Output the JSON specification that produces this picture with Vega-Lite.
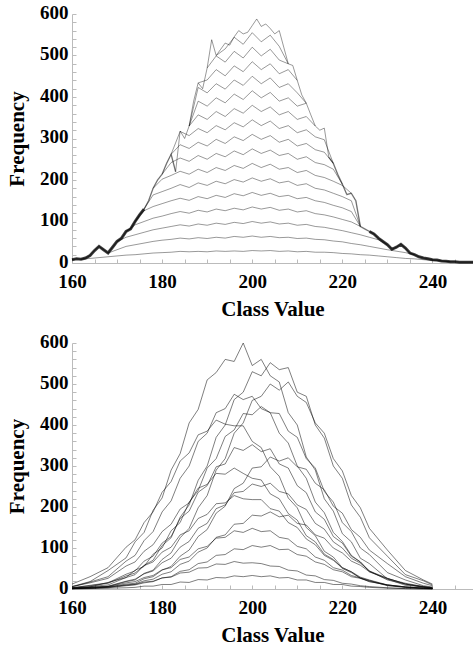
{
"$schema":"https://vega.github.io/schema/vega-lite/v6.json",
"padding":{"left":6,"top":3,"right":0,"bottom":0},
"spacing":13,
"config":{"view":{"stroke":null},"axis":{"labelFont":"Liberation Serif","labelFontWeight":"bold","labelFontSize":19,"labelColor":"#000","titleFont":"Liberation Serif","titleFontWeight":"bold","titleFontSize":21,"titleColor":"#000","domainColor":"#bbb","tickColor":"#bbb","grid":false,"labelOverlap":false,"labelFlush":false}},
"datasets":{
"a":[
{"s":"E","x":160,"y":8},{"s":"E","x":161,"y":10},{"s":"E","x":162,"y":9},{"s":"E","x":163,"y":12},{"s":"E","x":164,"y":18},{"s":"E","x":165,"y":30},{"s":"E","x":166,"y":40},{"s":"E","x":167,"y":32},{"s":"E","x":168,"y":24},{"s":"E","x":169,"y":38},{"s":"E","x":170,"y":52},{"s":"E","x":171,"y":60},{"s":"E","x":172,"y":76},{"s":"E","x":173,"y":82},{"s":"E","x":174,"y":100},{"s":"E","x":175,"y":116},{"s":"E","x":176,"y":130},{"s":"E","x":177,"y":150},{"s":"E","x":178,"y":180},{"s":"E","x":179,"y":200},{"s":"E","x":180,"y":214},{"s":"E","x":181,"y":240},{"s":"E","x":182,"y":262},{"s":"E","x":183,"y":220},{"s":"E","x":184,"y":318},{"s":"E","x":185,"y":300},{"s":"E","x":186,"y":330},{"s":"E","x":187,"y":390},{"s":"E","x":188,"y":434},{"s":"E","x":189,"y":420},{"s":"E","x":190,"y":470},{"s":"E","x":191,"y":538},{"s":"E","x":192,"y":500},{"s":"E","x":193,"y":515},{"s":"E","x":194,"y":530},{"s":"E","x":195,"y":525},{"s":"E","x":196,"y":545},{"s":"E","x":197,"y":560},{"s":"E","x":198,"y":552},{"s":"E","x":199,"y":556},{"s":"E","x":200,"y":572},{"s":"E","x":201,"y":588},{"s":"E","x":202,"y":570},{"s":"E","x":203,"y":576},{"s":"E","x":204,"y":565},{"s":"E","x":205,"y":552},{"s":"E","x":206,"y":560},{"s":"E","x":207,"y":520},{"s":"E","x":208,"y":480},{"s":"E","x":209,"y":476},{"s":"E","x":210,"y":440},{"s":"E","x":211,"y":405},{"s":"E","x":212,"y":385},{"s":"E","x":213,"y":357},{"s":"E","x":214,"y":330},{"s":"E","x":215,"y":320},{"s":"E","x":216,"y":325},{"s":"E","x":217,"y":255},{"s":"E","x":218,"y":240},{"s":"E","x":219,"y":213},{"s":"E","x":220,"y":190},{"s":"E","x":221,"y":165},{"s":"E","x":222,"y":168},{"s":"E","x":223,"y":150},{"s":"E","x":224,"y":88},{"s":"E","x":225,"y":82},{"s":"E","x":226,"y":76},{"s":"E","x":227,"y":70},{"s":"E","x":228,"y":60},{"s":"E","x":229,"y":52},{"s":"E","x":230,"y":44},{"s":"E","x":231,"y":33},{"s":"E","x":232,"y":38},{"s":"E","x":233,"y":45},{"s":"E","x":234,"y":36},{"s":"E","x":235,"y":24},{"s":"E","x":236,"y":20},{"s":"E","x":237,"y":15},{"s":"E","x":238,"y":12},{"s":"E","x":239,"y":10},{"s":"E","x":240,"y":8},{"s":"E","x":241,"y":7},{"s":"E","x":242,"y":5},{"s":"E","x":243,"y":4},{"s":"E","x":244,"y":3},{"s":"E","x":245,"y":3},{"s":"E","x":246,"y":2},{"s":"E","x":247,"y":2},{"s":"E","x":248,"y":2},{"s":"E","x":249,"y":2},
{"s":"1","x":162,"y":9},{"s":"1","x":164,"y":11},{"s":"1","x":166,"y":13},{"s":"1","x":168,"y":15},{"s":"1","x":170,"y":17},{"s":"1","x":172,"y":19},{"s":"1","x":174,"y":20},{"s":"1","x":176,"y":22},{"s":"1","x":178,"y":24},{"s":"1","x":180,"y":25},{"s":"1","x":182,"y":26},{"s":"1","x":184,"y":28},{"s":"1","x":186,"y":27},{"s":"1","x":188,"y":28},{"s":"1","x":190,"y":27},{"s":"1","x":192,"y":29},{"s":"1","x":194,"y":28},{"s":"1","x":196,"y":29},{"s":"1","x":198,"y":28},{"s":"1","x":200,"y":30},{"s":"1","x":202,"y":29},{"s":"1","x":204,"y":30},{"s":"1","x":206,"y":28},{"s":"1","x":208,"y":29},{"s":"1","x":210,"y":27},{"s":"1","x":212,"y":28},{"s":"1","x":214,"y":26},{"s":"1","x":216,"y":26},{"s":"1","x":218,"y":25},{"s":"1","x":220,"y":23},{"s":"1","x":222,"y":22},{"s":"1","x":224,"y":20},{"s":"1","x":226,"y":19},{"s":"1","x":228,"y":17},{"s":"1","x":230,"y":15},{"s":"1","x":232,"y":13},{"s":"1","x":234,"y":11},{"s":"1","x":236,"y":10},{"s":"1","x":238,"y":8},{"s":"1","x":240,"y":6},{"s":"1","x":242,"y":5},{"s":"1","x":244,"y":3},
{"s":"2","x":168,"y":24},{"s":"2","x":172,"y":40},{"s":"2","x":176,"y":48},{"s":"2","x":178,"y":52},{"s":"2","x":180,"y":55},{"s":"2","x":182,"y":57},{"s":"2","x":184,"y":60},{"s":"2","x":186,"y":58},{"s":"2","x":188,"y":61},{"s":"2","x":190,"y":59},{"s":"2","x":192,"y":62},{"s":"2","x":194,"y":60},{"s":"2","x":196,"y":64},{"s":"2","x":198,"y":62},{"s":"2","x":200,"y":65},{"s":"2","x":202,"y":62},{"s":"2","x":204,"y":64},{"s":"2","x":206,"y":61},{"s":"2","x":208,"y":62},{"s":"2","x":210,"y":59},{"s":"2","x":212,"y":60},{"s":"2","x":214,"y":57},{"s":"2","x":216,"y":56},{"s":"2","x":218,"y":53},{"s":"2","x":220,"y":51},{"s":"2","x":222,"y":47},{"s":"2","x":224,"y":44},{"s":"2","x":226,"y":40},{"s":"2","x":230,"y":32},{"s":"2","x":234,"y":25},{"s":"2","x":236,"y":20},
{"s":"3","x":170,"y":52},{"s":"3","x":172,"y":62},{"s":"3","x":174,"y":68},{"s":"3","x":176,"y":74},{"s":"3","x":178,"y":80},{"s":"3","x":180,"y":84},{"s":"3","x":182,"y":88},{"s":"3","x":184,"y":92},{"s":"3","x":186,"y":89},{"s":"3","x":188,"y":94},{"s":"3","x":190,"y":91},{"s":"3","x":192,"y":96},{"s":"3","x":194,"y":93},{"s":"3","x":196,"y":98},{"s":"3","x":198,"y":95},{"s":"3","x":200,"y":100},{"s":"3","x":202,"y":96},{"s":"3","x":204,"y":99},{"s":"3","x":206,"y":94},{"s":"3","x":208,"y":96},{"s":"3","x":210,"y":91},{"s":"3","x":212,"y":93},{"s":"3","x":214,"y":88},{"s":"3","x":216,"y":86},{"s":"3","x":218,"y":82},{"s":"3","x":220,"y":78},{"s":"3","x":222,"y":73},{"s":"3","x":224,"y":68},{"s":"3","x":226,"y":62},{"s":"3","x":228,"y":56},{"s":"3","x":230,"y":44},
{"s":"4","x":172,"y":76},{"s":"4","x":174,"y":92},{"s":"4","x":176,"y":100},{"s":"4","x":178,"y":108},{"s":"4","x":180,"y":113},{"s":"4","x":182,"y":119},{"s":"4","x":184,"y":124},{"s":"4","x":186,"y":120},{"s":"4","x":188,"y":127},{"s":"4","x":190,"y":123},{"s":"4","x":192,"y":130},{"s":"4","x":194,"y":126},{"s":"4","x":196,"y":132},{"s":"4","x":198,"y":128},{"s":"4","x":200,"y":135},{"s":"4","x":202,"y":130},{"s":"4","x":204,"y":134},{"s":"4","x":206,"y":127},{"s":"4","x":208,"y":130},{"s":"4","x":210,"y":123},{"s":"4","x":212,"y":126},{"s":"4","x":214,"y":119},{"s":"4","x":216,"y":116},{"s":"4","x":218,"y":111},{"s":"4","x":220,"y":105},{"s":"4","x":222,"y":99},{"s":"4","x":224,"y":88},
{"s":"5","x":174,"y":100},{"s":"5","x":176,"y":126},{"s":"5","x":178,"y":136},{"s":"5","x":180,"y":143},{"s":"5","x":182,"y":150},{"s":"5","x":184,"y":156},{"s":"5","x":186,"y":151},{"s":"5","x":188,"y":160},{"s":"5","x":190,"y":155},{"s":"5","x":192,"y":163},{"s":"5","x":194,"y":158},{"s":"5","x":196,"y":167},{"s":"5","x":198,"y":162},{"s":"5","x":200,"y":170},{"s":"5","x":202,"y":163},{"s":"5","x":204,"y":168},{"s":"5","x":206,"y":160},{"s":"5","x":208,"y":163},{"s":"5","x":210,"y":155},{"s":"5","x":212,"y":158},{"s":"5","x":214,"y":150},{"s":"5","x":216,"y":146},{"s":"5","x":218,"y":139},{"s":"5","x":220,"y":133},{"s":"5","x":222,"y":124},{"s":"5","x":224,"y":88},
{"s":"6","x":176,"y":130},{"s":"6","x":178,"y":164},{"s":"6","x":180,"y":172},{"s":"6","x":182,"y":180},{"s":"6","x":184,"y":189},{"s":"6","x":186,"y":182},{"s":"6","x":188,"y":193},{"s":"6","x":190,"y":187},{"s":"6","x":192,"y":197},{"s":"6","x":194,"y":191},{"s":"6","x":196,"y":201},{"s":"6","x":198,"y":195},{"s":"6","x":200,"y":205},{"s":"6","x":202,"y":197},{"s":"6","x":204,"y":203},{"s":"6","x":206,"y":193},{"s":"6","x":208,"y":197},{"s":"6","x":210,"y":187},{"s":"6","x":212,"y":191},{"s":"6","x":214,"y":180},{"s":"6","x":216,"y":176},{"s":"6","x":218,"y":168},{"s":"6","x":220,"y":160},{"s":"6","x":222,"y":150},{"s":"6","x":224,"y":88},
{"s":"7","x":178,"y":180},{"s":"7","x":180,"y":202},{"s":"7","x":182,"y":211},{"s":"7","x":184,"y":221},{"s":"7","x":186,"y":214},{"s":"7","x":188,"y":226},{"s":"7","x":190,"y":218},{"s":"7","x":192,"y":230},{"s":"7","x":194,"y":223},{"s":"7","x":196,"y":235},{"s":"7","x":198,"y":228},{"s":"7","x":200,"y":240},{"s":"7","x":202,"y":230},{"s":"7","x":204,"y":238},{"s":"7","x":206,"y":226},{"s":"7","x":208,"y":230},{"s":"7","x":210,"y":218},{"s":"7","x":212,"y":223},{"s":"7","x":214,"y":211},{"s":"7","x":216,"y":206},{"s":"7","x":218,"y":197},{"s":"7","x":220,"y":187},{"s":"7","x":222,"y":168},
{"s":"8","x":180,"y":214},{"s":"8","x":182,"y":242},{"s":"8","x":184,"y":253},{"s":"8","x":186,"y":245},{"s":"8","x":188,"y":259},{"s":"8","x":190,"y":250},{"s":"8","x":192,"y":264},{"s":"8","x":194,"y":256},{"s":"8","x":196,"y":270},{"s":"8","x":198,"y":261},{"s":"8","x":200,"y":275},{"s":"8","x":202,"y":264},{"s":"8","x":204,"y":272},{"s":"8","x":206,"y":259},{"s":"8","x":208,"y":264},{"s":"8","x":210,"y":250},{"s":"8","x":212,"y":256},{"s":"8","x":214,"y":242},{"s":"8","x":216,"y":237},{"s":"8","x":218,"y":226},{"s":"8","x":220,"y":190},
{"s":"9","x":182,"y":262},{"s":"9","x":184,"y":285},{"s":"9","x":186,"y":276},{"s":"9","x":188,"y":291},{"s":"9","x":190,"y":282},{"s":"9","x":192,"y":298},{"s":"9","x":194,"y":288},{"s":"9","x":196,"y":304},{"s":"9","x":198,"y":295},{"s":"9","x":200,"y":310},{"s":"9","x":202,"y":298},{"s":"9","x":204,"y":307},{"s":"9","x":206,"y":291},{"s":"9","x":208,"y":298},{"s":"9","x":210,"y":282},{"s":"9","x":212,"y":288},{"s":"9","x":214,"y":273},{"s":"9","x":216,"y":267},{"s":"9","x":218,"y":240},
{"s":"10","x":182,"y":262},{"s":"10","x":184,"y":317},{"s":"10","x":186,"y":307},{"s":"10","x":188,"y":324},{"s":"10","x":190,"y":314},{"s":"10","x":192,"y":331},{"s":"10","x":194,"y":321},{"s":"10","x":196,"y":338},{"s":"10","x":198,"y":328},{"s":"10","x":200,"y":345},{"s":"10","x":202,"y":331},{"s":"10","x":204,"y":342},{"s":"10","x":206,"y":324},{"s":"10","x":208,"y":331},{"s":"10","x":210,"y":314},{"s":"10","x":212,"y":321},{"s":"10","x":214,"y":304},{"s":"10","x":216,"y":297},{"s":"10","x":218,"y":240},
{"s":"11","x":186,"y":330},{"s":"11","x":188,"y":357},{"s":"11","x":190,"y":346},{"s":"11","x":192,"y":365},{"s":"11","x":194,"y":353},{"s":"11","x":196,"y":372},{"s":"11","x":198,"y":361},{"s":"11","x":200,"y":380},{"s":"11","x":202,"y":365},{"s":"11","x":204,"y":376},{"s":"11","x":206,"y":357},{"s":"11","x":208,"y":365},{"s":"11","x":210,"y":346},{"s":"11","x":212,"y":353},{"s":"11","x":214,"y":330},
{"s":"12","x":186,"y":330},{"s":"12","x":188,"y":390},{"s":"12","x":190,"y":378},{"s":"12","x":192,"y":398},{"s":"12","x":194,"y":386},{"s":"12","x":196,"y":407},{"s":"12","x":198,"y":394},{"s":"12","x":200,"y":415},{"s":"12","x":202,"y":398},{"s":"12","x":204,"y":411},{"s":"12","x":206,"y":390},{"s":"12","x":208,"y":398},{"s":"12","x":210,"y":378},{"s":"12","x":212,"y":385},
{"s":"13","x":186,"y":330},{"s":"13","x":188,"y":423},{"s":"13","x":190,"y":410},{"s":"13","x":192,"y":432},{"s":"13","x":194,"y":419},{"s":"13","x":196,"y":441},{"s":"13","x":198,"y":428},{"s":"13","x":200,"y":450},{"s":"13","x":202,"y":432},{"s":"13","x":204,"y":446},{"s":"13","x":206,"y":423},{"s":"13","x":208,"y":432},{"s":"13","x":210,"y":410},{"s":"13","x":212,"y":385},
{"s":"14","x":188,"y":434},{"s":"14","x":190,"y":441},{"s":"14","x":192,"y":466},{"s":"14","x":194,"y":451},{"s":"14","x":196,"y":475},{"s":"14","x":198,"y":461},{"s":"14","x":200,"y":485},{"s":"14","x":202,"y":466},{"s":"14","x":204,"y":480},{"s":"14","x":206,"y":456},{"s":"14","x":208,"y":466},{"s":"14","x":210,"y":440},
{"s":"15","x":190,"y":470},{"s":"15","x":192,"y":499},{"s":"15","x":194,"y":484},{"s":"15","x":196,"y":510},{"s":"15","x":198,"y":494},{"s":"15","x":200,"y":520},{"s":"15","x":202,"y":499},{"s":"15","x":204,"y":515},{"s":"15","x":206,"y":489},{"s":"15","x":208,"y":480},
{"s":"16","x":192,"y":500},{"s":"16","x":194,"y":516},{"s":"16","x":196,"y":544},{"s":"16","x":198,"y":527},{"s":"16","x":200,"y":555},{"s":"16","x":202,"y":533},{"s":"16","x":204,"y":549},{"s":"16","x":206,"y":522},{"s":"16","x":208,"y":480}
],
"b":[
{"s":"1","x":160,"y":6},{"s":"1","x":164,"y":18},{"s":"1","x":168,"y":45},{"s":"1","x":172,"y":76},{"s":"1","x":174,"y":115},{"s":"1","x":176,"y":138},{"s":"1","x":178,"y":192},{"s":"1","x":180,"y":222},{"s":"1","x":182,"y":290},{"s":"1","x":184,"y":330},{"s":"1","x":186,"y":405},{"s":"1","x":188,"y":438},{"s":"1","x":190,"y":510},{"s":"1","x":192,"y":528},{"s":"1","x":194,"y":560},{"s":"1","x":196,"y":555},{"s":"1","x":198,"y":600},{"s":"1","x":200,"y":545},{"s":"1","x":202,"y":560},{"s":"1","x":204,"y":520},{"s":"1","x":206,"y":505},{"s":"1","x":208,"y":430},{"s":"1","x":210,"y":400},{"s":"1","x":212,"y":322},{"s":"1","x":214,"y":290},{"s":"1","x":216,"y":220},{"s":"1","x":218,"y":190},{"s":"1","x":220,"y":135},{"s":"1","x":222,"y":115},{"s":"1","x":224,"y":75},{"s":"1","x":226,"y":62},{"s":"1","x":230,"y":25},{"s":"1","x":234,"y":14},{"s":"1","x":238,"y":6},{"s":"1","x":240,"y":3},
{"s":"2","x":160,"y":2},{"s":"2","x":164,"y":6},{"s":"2","x":168,"y":10},{"s":"2","x":172,"y":28},{"s":"2","x":174,"y":35},{"s":"2","x":176,"y":58},{"s":"2","x":178,"y":70},{"s":"2","x":180,"y":106},{"s":"2","x":182,"y":125},{"s":"2","x":184,"y":175},{"s":"2","x":186,"y":205},{"s":"2","x":188,"y":265},{"s":"2","x":190,"y":300},{"s":"2","x":192,"y":370},{"s":"2","x":194,"y":400},{"s":"2","x":196,"y":462},{"s":"2","x":198,"y":480},{"s":"2","x":200,"y":530},{"s":"2","x":202,"y":520},{"s":"2","x":204,"y":552},{"s":"2","x":206,"y":535},{"s":"2","x":208,"y":540},{"s":"2","x":210,"y":480},{"s":"2","x":212,"y":470},{"s":"2","x":214,"y":400},{"s":"2","x":216,"y":368},{"s":"2","x":218,"y":300},{"s":"2","x":220,"y":270},{"s":"2","x":222,"y":205},{"s":"2","x":224,"y":175},{"s":"2","x":226,"y":125},{"s":"2","x":230,"y":80},{"s":"2","x":234,"y":35},{"s":"2","x":238,"y":20},{"s":"2","x":240,"y":10},
{"s":"3","x":160,"y":1},{"s":"3","x":164,"y":4},{"s":"3","x":168,"y":6},{"s":"3","x":172,"y":18},{"s":"3","x":174,"y":22},{"s":"3","x":176,"y":38},{"s":"3","x":178,"y":46},{"s":"3","x":180,"y":72},{"s":"3","x":182,"y":88},{"s":"3","x":184,"y":125},{"s":"3","x":186,"y":148},{"s":"3","x":188,"y":198},{"s":"3","x":190,"y":228},{"s":"3","x":192,"y":290},{"s":"3","x":194,"y":318},{"s":"3","x":196,"y":380},{"s":"3","x":198,"y":405},{"s":"3","x":200,"y":460},{"s":"3","x":202,"y":470},{"s":"3","x":204,"y":500},{"s":"3","x":206,"y":485},{"s":"3","x":208,"y":505},{"s":"3","x":210,"y":470},{"s":"3","x":212,"y":455},{"s":"3","x":214,"y":405},{"s":"3","x":216,"y":380},{"s":"3","x":218,"y":318},{"s":"3","x":220,"y":288},{"s":"3","x":222,"y":228},{"s":"3","x":224,"y":198},{"s":"3","x":226,"y":148},{"s":"3","x":230,"y":95},{"s":"3","x":234,"y":45},{"s":"3","x":238,"y":22},{"s":"3","x":240,"y":12},
{"s":"4","x":160,"y":5},{"s":"4","x":164,"y":17},{"s":"4","x":168,"y":30},{"s":"4","x":172,"y":68},{"s":"4","x":174,"y":82},{"s":"4","x":176,"y":118},{"s":"4","x":178,"y":140},{"s":"4","x":180,"y":188},{"s":"4","x":182,"y":215},{"s":"4","x":184,"y":270},{"s":"4","x":186,"y":300},{"s":"4","x":188,"y":360},{"s":"4","x":190,"y":380},{"s":"4","x":192,"y":430},{"s":"4","x":194,"y":440},{"s":"4","x":196,"y":475},{"s":"4","x":198,"y":462},{"s":"4","x":200,"y":470},{"s":"4","x":202,"y":440},{"s":"4","x":204,"y":430},{"s":"4","x":206,"y":380},{"s":"4","x":208,"y":356},{"s":"4","x":210,"y":300},{"s":"4","x":212,"y":270},{"s":"4","x":214,"y":212},{"s":"4","x":216,"y":186},{"s":"4","x":218,"y":138},{"s":"4","x":220,"y":116},{"s":"4","x":222,"y":82},{"s":"4","x":224,"y":66},{"s":"4","x":226,"y":42},{"s":"4","x":230,"y":24},{"s":"4","x":234,"y":9},{"s":"4","x":238,"y":5},{"s":"4","x":240,"y":2},
{"s":"5","x":160,"y":3},{"s":"5","x":164,"y":5},{"s":"5","x":168,"y":16},{"s":"5","x":172,"y":28},{"s":"5","x":174,"y":46},{"s":"5","x":176,"y":55},{"s":"5","x":178,"y":85},{"s":"5","x":180,"y":100},{"s":"5","x":182,"y":142},{"s":"5","x":184,"y":162},{"s":"5","x":186,"y":212},{"s":"5","x":188,"y":240},{"s":"5","x":190,"y":295},{"s":"5","x":192,"y":318},{"s":"5","x":194,"y":372},{"s":"5","x":196,"y":388},{"s":"5","x":198,"y":428},{"s":"5","x":200,"y":425},{"s":"5","x":202,"y":445},{"s":"5","x":204,"y":430},{"s":"5","x":206,"y":428},{"s":"5","x":208,"y":385},{"s":"5","x":210,"y":370},{"s":"5","x":212,"y":318},{"s":"5","x":214,"y":295},{"s":"5","x":216,"y":238},{"s":"5","x":218,"y":212},{"s":"5","x":220,"y":162},{"s":"5","x":222,"y":140},{"s":"5","x":224,"y":100},{"s":"5","x":226,"y":84},{"s":"5","x":230,"y":40},{"s":"5","x":234,"y":22},{"s":"5","x":238,"y":8},{"s":"5","x":240,"y":5},
{"s":"6","x":160,"y":12},{"s":"6","x":164,"y":30},{"s":"6","x":168,"y":52},{"s":"6","x":172,"y":102},{"s":"6","x":174,"y":120},{"s":"6","x":176,"y":162},{"s":"6","x":178,"y":188},{"s":"6","x":180,"y":236},{"s":"6","x":182,"y":262},{"s":"6","x":184,"y":312},{"s":"6","x":186,"y":332},{"s":"6","x":188,"y":376},{"s":"6","x":190,"y":385},{"s":"6","x":192,"y":412},{"s":"6","x":194,"y":402},{"s":"6","x":196,"y":398},{"s":"6","x":198,"y":398},{"s":"6","x":200,"y":360},{"s":"6","x":202,"y":345},{"s":"6","x":204,"y":298},{"s":"6","x":206,"y":275},{"s":"6","x":208,"y":222},{"s":"6","x":210,"y":198},{"s":"6","x":212,"y":150},{"s":"6","x":214,"y":130},{"s":"6","x":216,"y":92},{"s":"6","x":218,"y":78},{"s":"6","x":220,"y":52},{"s":"6","x":222,"y":42},{"s":"6","x":224,"y":26},{"s":"6","x":226,"y":20},{"s":"6","x":230,"y":8},{"s":"6","x":234,"y":4},{"s":"6","x":238,"y":2},{"s":"6","x":240,"y":1},
{"s":"7","x":160,"y":3},{"s":"7","x":164,"y":9},{"s":"7","x":168,"y":15},{"s":"7","x":172,"y":36},{"s":"7","x":174,"y":44},{"s":"7","x":176,"y":68},{"s":"7","x":178,"y":80},{"s":"7","x":180,"y":112},{"s":"7","x":182,"y":128},{"s":"7","x":184,"y":172},{"s":"7","x":186,"y":190},{"s":"7","x":188,"y":236},{"s":"7","x":190,"y":252},{"s":"7","x":192,"y":298},{"s":"7","x":194,"y":305},{"s":"7","x":196,"y":345},{"s":"7","x":198,"y":338},{"s":"7","x":200,"y":352},{"s":"7","x":202,"y":335},{"s":"7","x":204,"y":342},{"s":"7","x":206,"y":305},{"s":"7","x":208,"y":295},{"s":"7","x":210,"y":252},{"s":"7","x":212,"y":235},{"s":"7","x":214,"y":188},{"s":"7","x":216,"y":170},{"s":"7","x":218,"y":128},{"s":"7","x":220,"y":112},{"s":"7","x":222,"y":80},{"s":"7","x":224,"y":66},{"s":"7","x":226,"y":44},{"s":"7","x":230,"y":22},{"s":"7","x":234,"y":12},{"s":"7","x":238,"y":4},{"s":"7","x":240,"y":2},
{"s":"8","x":160,"y":1},{"s":"8","x":164,"y":2},{"s":"8","x":168,"y":5},{"s":"8","x":172,"y":12},{"s":"8","x":174,"y":14},{"s":"8","x":176,"y":25},{"s":"8","x":178,"y":30},{"s":"8","x":180,"y":46},{"s":"8","x":182,"y":55},{"s":"8","x":184,"y":80},{"s":"8","x":186,"y":95},{"s":"8","x":188,"y":128},{"s":"8","x":190,"y":145},{"s":"8","x":192,"y":185},{"s":"8","x":194,"y":202},{"s":"8","x":196,"y":245},{"s":"8","x":198,"y":258},{"s":"8","x":200,"y":295},{"s":"8","x":202,"y":298},{"s":"8","x":204,"y":322},{"s":"8","x":206,"y":312},{"s":"8","x":208,"y":320},{"s":"8","x":210,"y":298},{"s":"8","x":212,"y":292},{"s":"8","x":214,"y":258},{"s":"8","x":216,"y":242},{"s":"8","x":218,"y":202},{"s":"8","x":220,"y":185},{"s":"8","x":222,"y":145},{"s":"8","x":224,"y":126},{"s":"8","x":226,"y":95},{"s":"8","x":230,"y":62},{"s":"8","x":234,"y":30},{"s":"8","x":238,"y":14},{"s":"8","x":240,"y":8},
{"s":"9","x":160,"y":6},{"s":"9","x":164,"y":15},{"s":"9","x":168,"y":26},{"s":"9","x":172,"y":56},{"s":"9","x":174,"y":66},{"s":"9","x":176,"y":92},{"s":"9","x":178,"y":108},{"s":"9","x":180,"y":140},{"s":"9","x":182,"y":158},{"s":"9","x":184,"y":195},{"s":"9","x":186,"y":210},{"s":"9","x":188,"y":246},{"s":"9","x":190,"y":255},{"s":"9","x":192,"y":282},{"s":"9","x":194,"y":280},{"s":"9","x":196,"y":295},{"s":"9","x":198,"y":282},{"s":"9","x":200,"y":270},{"s":"9","x":202,"y":266},{"s":"9","x":204,"y":232},{"s":"9","x":206,"y":220},{"s":"9","x":208,"y":184},{"s":"9","x":210,"y":168},{"s":"9","x":212,"y":130},{"s":"9","x":214,"y":115},{"s":"9","x":216,"y":85},{"s":"9","x":218,"y":72},{"s":"9","x":220,"y":50},{"s":"9","x":222,"y":40},{"s":"9","x":224,"y":27},{"s":"9","x":226,"y":21},{"s":"9","x":230,"y":9},{"s":"9","x":234,"y":4},{"s":"9","x":238,"y":2},{"s":"9","x":240,"y":1},
{"s":"10","x":160,"y":2},{"s":"10","x":164,"y":4},{"s":"10","x":168,"y":7},{"s":"10","x":172,"y":19},{"s":"10","x":174,"y":24},{"s":"10","x":176,"y":37},{"s":"10","x":178,"y":44},{"s":"10","x":180,"y":64},{"s":"10","x":182,"y":75},{"s":"10","x":184,"y":102},{"s":"10","x":186,"y":116},{"s":"10","x":188,"y":148},{"s":"10","x":190,"y":160},{"s":"10","x":192,"y":196},{"s":"10","x":194,"y":205},{"s":"10","x":196,"y":235},{"s":"10","x":198,"y":238},{"s":"10","x":200,"y":256},{"s":"10","x":202,"y":250},{"s":"10","x":204,"y":258},{"s":"10","x":206,"y":238},{"s":"10","x":208,"y":232},{"s":"10","x":210,"y":205},{"s":"10","x":212,"y":194},{"s":"10","x":214,"y":160},{"s":"10","x":216,"y":146},{"s":"10","x":218,"y":115},{"s":"10","x":220,"y":100},{"s":"10","x":222,"y":75},{"s":"10","x":224,"y":63},{"s":"10","x":226,"y":44},{"s":"10","x":230,"y":26},{"s":"10","x":234,"y":12},{"s":"10","x":238,"y":5},{"s":"10","x":240,"y":3},
{"s":"11","x":160,"y":3},{"s":"11","x":164,"y":8},{"s":"11","x":168,"y":14},{"s":"11","x":172,"y":32},{"s":"11","x":174,"y":39},{"s":"11","x":176,"y":57},{"s":"11","x":178,"y":66},{"s":"11","x":180,"y":90},{"s":"11","x":182,"y":102},{"s":"11","x":184,"y":132},{"s":"11","x":186,"y":142},{"s":"11","x":188,"y":172},{"s":"11","x":190,"y":182},{"s":"11","x":192,"y":208},{"s":"11","x":194,"y":210},{"s":"11","x":196,"y":228},{"s":"11","x":198,"y":220},{"s":"11","x":200,"y":218},{"s":"11","x":202,"y":218},{"s":"11","x":204,"y":196},{"s":"11","x":206,"y":190},{"s":"11","x":208,"y":162},{"s":"11","x":210,"y":150},{"s":"11","x":212,"y":122},{"s":"11","x":214,"y":108},{"s":"11","x":216,"y":82},{"s":"11","x":218,"y":70},{"s":"11","x":220,"y":52},{"s":"11","x":222,"y":42},{"s":"11","x":224,"y":29},{"s":"11","x":226,"y":22},{"s":"11","x":230,"y":10},{"s":"11","x":234,"y":5},{"s":"11","x":238,"y":2},{"s":"11","x":240,"y":1},
{"s":"12","x":160,"y":1},{"s":"12","x":164,"y":2},{"s":"12","x":168,"y":4},{"s":"12","x":172,"y":10},{"s":"12","x":174,"y":12},{"s":"12","x":176,"y":20},{"s":"12","x":178,"y":24},{"s":"12","x":180,"y":36},{"s":"12","x":182,"y":42},{"s":"12","x":184,"y":60},{"s":"12","x":186,"y":68},{"s":"12","x":188,"y":90},{"s":"12","x":190,"y":100},{"s":"12","x":192,"y":126},{"s":"12","x":194,"y":132},{"s":"12","x":196,"y":158},{"s":"12","x":198,"y":160},{"s":"12","x":200,"y":180},{"s":"12","x":202,"y":178},{"s":"12","x":204,"y":188},{"s":"12","x":206,"y":176},{"s":"12","x":208,"y":180},{"s":"12","x":210,"y":160},{"s":"12","x":212,"y":156},{"s":"12","x":214,"y":132},{"s":"12","x":216,"y":124},{"s":"12","x":218,"y":100},{"s":"12","x":220,"y":88},{"s":"12","x":222,"y":68},{"s":"12","x":224,"y":58},{"s":"12","x":226,"y":42},{"s":"12","x":230,"y":26},{"s":"12","x":234,"y":12},{"s":"12","x":238,"y":6},{"s":"12","x":240,"y":3},
{"s":"13","x":160,"y":1},{"s":"13","x":164,"y":4},{"s":"13","x":168,"y":6},{"s":"13","x":172,"y":15},{"s":"13","x":174,"y":18},{"s":"13","x":176,"y":28},{"s":"13","x":178,"y":33},{"s":"13","x":180,"y":47},{"s":"13","x":182,"y":52},{"s":"13","x":184,"y":72},{"s":"13","x":186,"y":78},{"s":"13","x":188,"y":98},{"s":"13","x":190,"y":104},{"s":"13","x":192,"y":124},{"s":"13","x":194,"y":126},{"s":"13","x":196,"y":142},{"s":"13","x":198,"y":138},{"s":"13","x":200,"y":148},{"s":"13","x":202,"y":140},{"s":"13","x":204,"y":142},{"s":"13","x":206,"y":126},{"s":"13","x":208,"y":122},{"s":"13","x":210,"y":104},{"s":"13","x":212,"y":98},{"s":"13","x":214,"y":78},{"s":"13","x":216,"y":70},{"s":"13","x":218,"y":52},{"s":"13","x":220,"y":46},{"s":"13","x":222,"y":33},{"s":"13","x":224,"y":27},{"s":"13","x":226,"y":18},{"s":"13","x":230,"y":10},{"s":"13","x":234,"y":5},{"s":"13","x":238,"y":2},{"s":"13","x":240,"y":1},
{"s":"14","x":160,"y":1},{"s":"14","x":164,"y":2},{"s":"14","x":168,"y":3},{"s":"14","x":172,"y":8},{"s":"14","x":174,"y":10},{"s":"14","x":176,"y":15},{"s":"14","x":178,"y":18},{"s":"14","x":180,"y":27},{"s":"14","x":182,"y":30},{"s":"14","x":184,"y":43},{"s":"14","x":186,"y":47},{"s":"14","x":188,"y":62},{"s":"14","x":190,"y":66},{"s":"14","x":192,"y":82},{"s":"14","x":194,"y":84},{"s":"14","x":196,"y":98},{"s":"14","x":198,"y":96},{"s":"14","x":200,"y":106},{"s":"14","x":202,"y":102},{"s":"14","x":204,"y":106},{"s":"14","x":206,"y":96},{"s":"14","x":208,"y":97},{"s":"14","x":210,"y":84},{"s":"14","x":212,"y":80},{"s":"14","x":214,"y":66},{"s":"14","x":216,"y":60},{"s":"14","x":218,"y":47},{"s":"14","x":220,"y":42},{"s":"14","x":222,"y":30},{"s":"14","x":224,"y":26},{"s":"14","x":226,"y":18},{"s":"14","x":230,"y":10},{"s":"14","x":234,"y":5},{"s":"14","x":238,"y":2},{"s":"14","x":240,"y":1},
{"s":"15","x":160,"y":1},{"s":"15","x":164,"y":2},{"s":"15","x":168,"y":5},{"s":"15","x":172,"y":9},{"s":"15","x":174,"y":11},{"s":"15","x":176,"y":17},{"s":"15","x":178,"y":19},{"s":"15","x":180,"y":27},{"s":"15","x":182,"y":29},{"s":"15","x":184,"y":39},{"s":"15","x":186,"y":41},{"s":"15","x":188,"y":51},{"s":"15","x":190,"y":52},{"s":"15","x":192,"y":61},{"s":"15","x":194,"y":60},{"s":"15","x":196,"y":67},{"s":"15","x":198,"y":63},{"s":"15","x":200,"y":64},{"s":"15","x":202,"y":62},{"s":"15","x":204,"y":56},{"s":"15","x":206,"y":55},{"s":"15","x":208,"y":46},{"s":"15","x":210,"y":44},{"s":"15","x":212,"y":34},{"s":"15","x":214,"y":32},{"s":"15","x":216,"y":23},{"s":"15","x":218,"y":21},{"s":"15","x":220,"y":14},{"s":"15","x":222,"y":12},{"s":"15","x":224,"y":8},{"s":"15","x":226,"y":6},{"s":"15","x":230,"y":3},{"s":"15","x":234,"y":1},{"s":"15","x":238,"y":1},{"s":"15","x":240,"y":0},
{"s":"16","x":160,"y":0},{"s":"16","x":164,"y":1},{"s":"16","x":168,"y":2},{"s":"16","x":172,"y":3},{"s":"16","x":174,"y":4},{"s":"16","x":176,"y":7},{"s":"16","x":178,"y":7},{"s":"16","x":180,"y":11},{"s":"16","x":182,"y":11},{"s":"16","x":184,"y":17},{"s":"16","x":186,"y":16},{"s":"16","x":188,"y":23},{"s":"16","x":190,"y":22},{"s":"16","x":192,"y":28},{"s":"16","x":194,"y":27},{"s":"16","x":196,"y":32},{"s":"16","x":198,"y":30},{"s":"16","x":200,"y":33},{"s":"16","x":202,"y":30},{"s":"16","x":204,"y":32},{"s":"16","x":206,"y":27},{"s":"16","x":208,"y":28},{"s":"16","x":210,"y":22},{"s":"16","x":212,"y":22},{"s":"16","x":214,"y":16},{"s":"16","x":216,"y":16},{"s":"16","x":218,"y":11},{"s":"16","x":220,"y":11},{"s":"16","x":222,"y":7},{"s":"16","x":224,"y":6},{"s":"16","x":226,"y":4},{"s":"16","x":230,"y":2},{"s":"16","x":234,"y":1},{"s":"16","x":238,"y":0},{"s":"16","x":240,"y":0}
]},
"vconcat":[
{"width":401,"height":249,
"encoding":{
"x":{"field":"x","type":"quantitative","scale":{"domain":[160,249],"nice":false,"zero":false},"axis":{"title":"Class Value","values":[160,165,170,175,180,185,190,195,200,205,210,215,220,225,230,235,240,245],"labelExpr":"datum.value % 20 === 0 ? datum.label : ''","tickSize":-4,"labelPadding":13,"titlePadding":7}},
"y":{"field":"y","type":"quantitative","scale":{"domain":[0,600],"nice":false},"axis":{"title":"Frequency","values":[0,20,40,60,80,100,120,140,160,180,200,220,240,260,280,300,320,340,360,380,400,420,440,460,480,500,520,540,560,580,600],"labelExpr":"datum.value % 100 === 0 ? datum.label : ''","tickSize":-4,"labelPadding":8,"labelOffset":-2,"titlePadding":12}}},
"layer":[
{"data":{"name":"a"},"mark":{"type":"line","color":"#000","opacity":0.4,"strokeWidth":1},"encoding":{"detail":{"field":"s"}}},
{"data":{"name":"a"},"transform":[{"filter":{"and":[{"field":"s","equal":"E"},{"field":"x","lte":183}]}}],"mark":{"type":"line","color":"#000","opacity":0.3,"strokeWidth":1.5}},
{"data":{"name":"a"},"transform":[{"filter":{"and":[{"field":"s","equal":"E"},{"field":"x","gte":217}]}}],"mark":{"type":"line","color":"#000","opacity":0.3,"strokeWidth":1.5}},
{"data":{"name":"a"},"transform":[{"filter":{"and":[{"field":"s","equal":"E"},{"field":"x","lte":176}]}}],"mark":{"type":"line","color":"#000","opacity":0.75,"strokeWidth":3}},
{"data":{"name":"a"},"transform":[{"filter":{"and":[{"field":"s","equal":"E"},{"field":"x","gte":226}]}}],"mark":{"type":"line","color":"#000","opacity":0.75,"strokeWidth":3}},
{"data":{"values":[{"t":"a."}]},"mark":{"type":"text","font":"Liberation Serif","fontWeight":"bold","fontSize":21,"color":"#000","align":"center","baseline":"middle"},"encoding":{"x":{"datum":230,"type":"quantitative"},"y":{"datum":490,"type":"quantitative"},"text":{"field":"t"}}}
]},
{"width":401,"height":246,
"encoding":{
"x":{"field":"x","type":"quantitative","scale":{"domain":[160,249],"nice":false,"zero":false},"axis":{"title":"Class Value","values":[160,165,170,175,180,185,190,195,200,205,210,215,220,225,230,235,240,245],"labelExpr":"datum.value % 20 === 0 ? datum.label : ''","tickSize":-4,"labelPadding":13,"titlePadding":7}},
"y":{"field":"y","type":"quantitative","scale":{"domain":[0,600],"nice":false},"axis":{"title":"Frequency","values":[0,20,40,60,80,100,120,140,160,180,200,220,240,260,280,300,320,340,360,380,400,420,440,460,480,500,520,540,560,580,600],"labelExpr":"datum.value % 100 === 0 ? datum.label : ''","tickSize":-4,"labelPadding":8,"labelOffset":-2,"titlePadding":12}}},
"layer":[
{"data":{"name":"b"},"mark":{"type":"line","color":"#000","opacity":0.5,"strokeWidth":1},"encoding":{"detail":{"field":"s"}}},
{"data":{"values":[{"t":"b."}]},"mark":{"type":"text","font":"Liberation Serif","fontWeight":"bold","fontSize":21,"color":"#000","align":"center","baseline":"middle"},"encoding":{"x":{"datum":230,"type":"quantitative"},"y":{"datum":495,"type":"quantitative"},"text":{"field":"t"}}}
]}
]
}
